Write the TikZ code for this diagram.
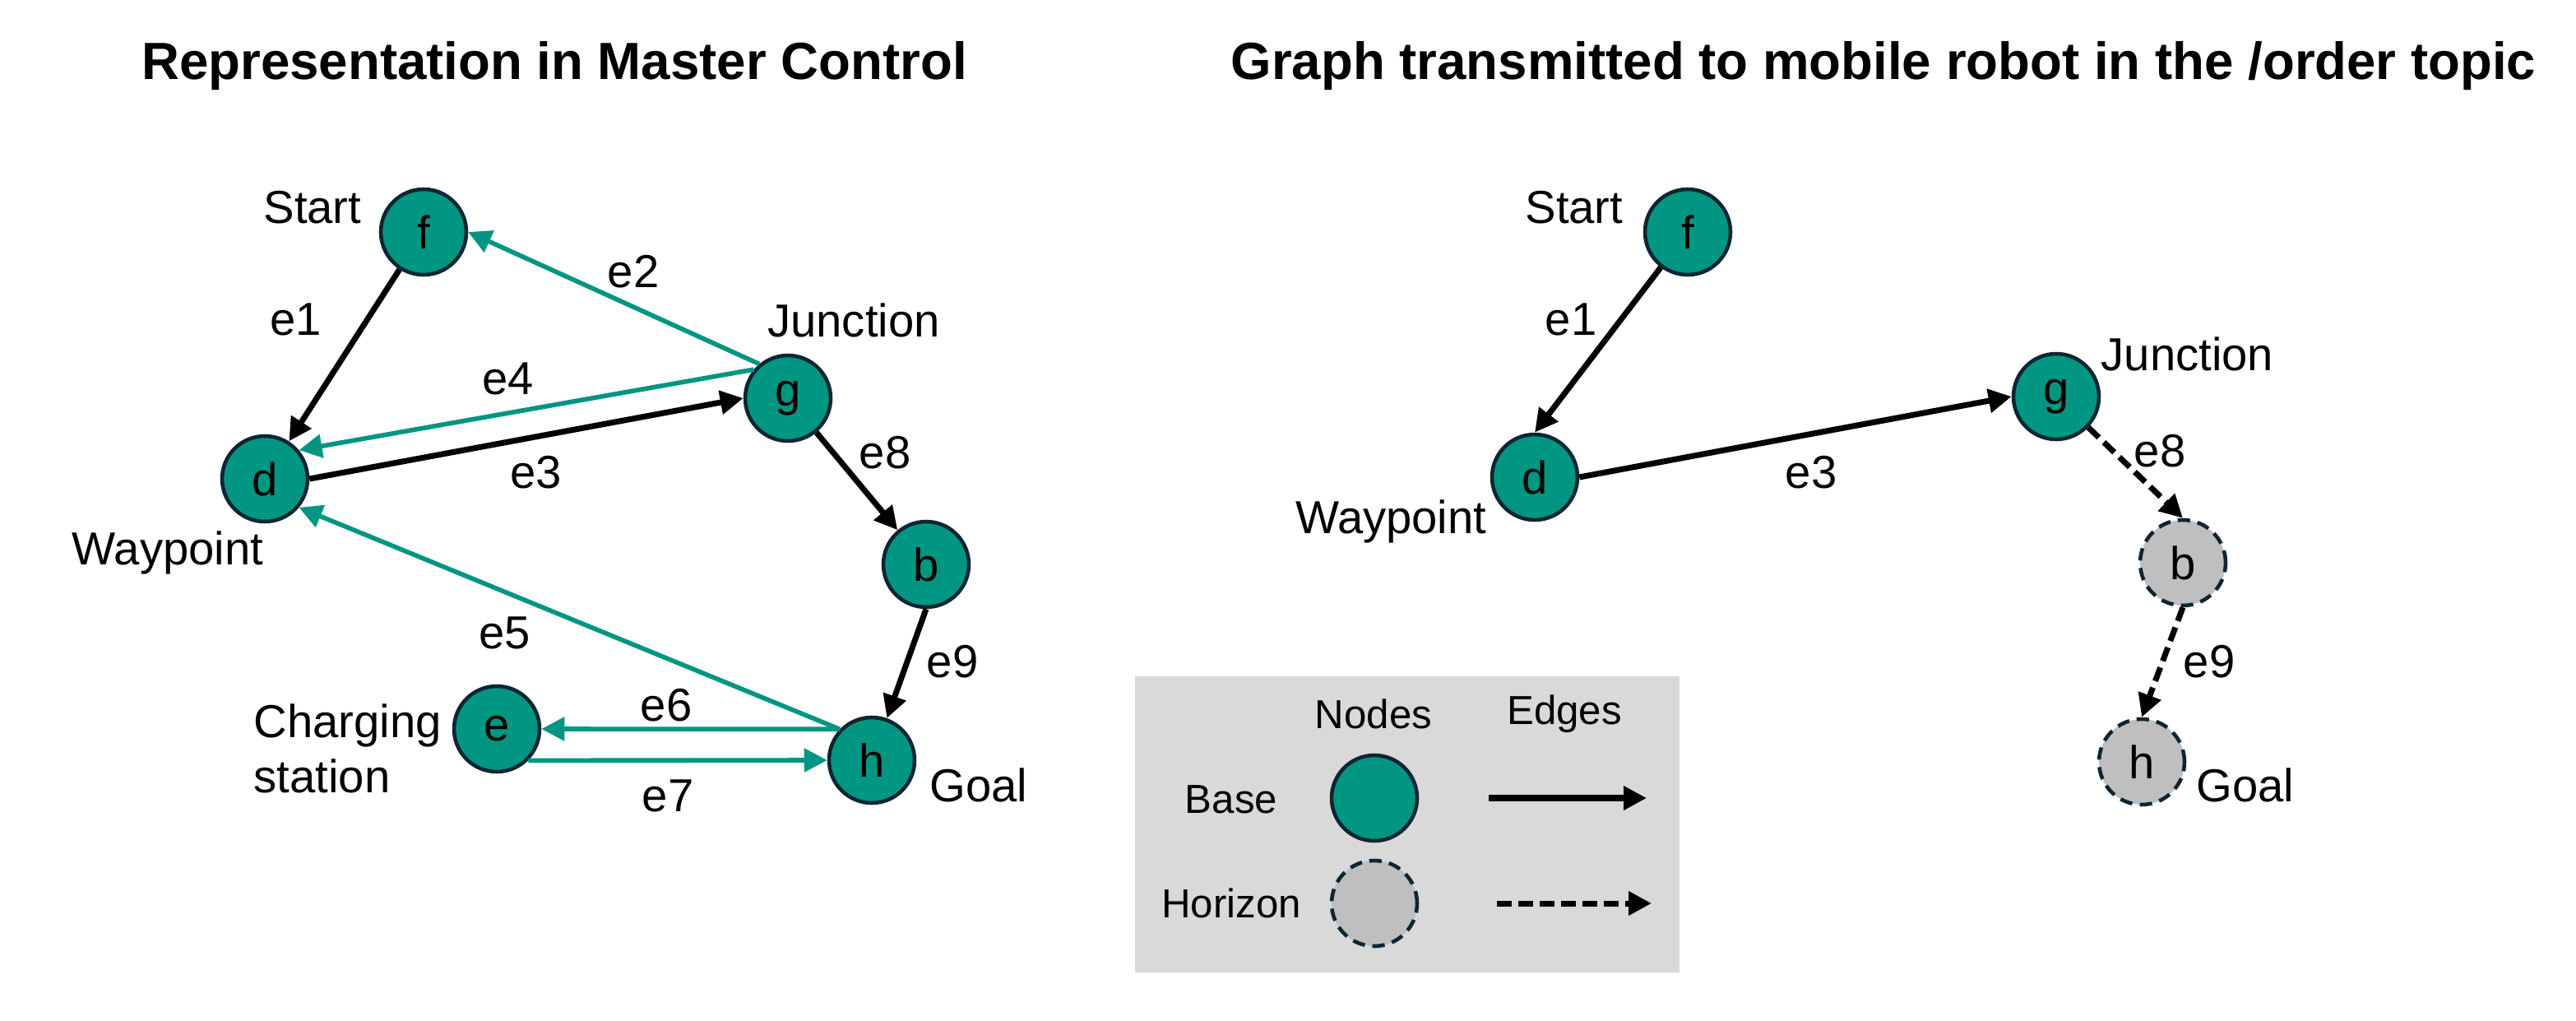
\documentclass[tikz,border=0pt]{standalone}
\usepackage{fontspec}
\setmainfont{Liberation Sans}
\usetikzlibrary{arrows.meta, positioning}

\definecolor{kitgreen}{RGB}{0,150,130}
\definecolor{nodeline}{RGB}{14,37,51}
\definecolor{horizongray}{RGB}{191,191,191}
\definecolor{legendgray}{RGB}{217,217,217}

\begin{document}
\begin{tikzpicture}[
    x=0.02cm, y=-0.02cm,
    basenode/.style={
        circle, draw=nodeline, line width=1.3pt, fill=kitgreen,
        minimum size=1.04cm, inner sep=0pt, font=\fontsize{16}{19}\selectfont
    },
    horizonnode/.style={basenode, fill=horizongray, dash pattern=on 4.3pt off 2.6pt},
    lbl/.style={font=\fontsize{16}{19}\selectfont, inner sep=0pt, align=left},
    heading/.style={font=\fontsize{18.1}{22}\selectfont\bfseries, inner sep=0pt},
    legtext/.style={font=\fontsize{14}{17}\selectfont, inner sep=0pt},
    arrow/.style={-{Triangle[length=2.8mm, width=2.8mm]}, line width=2pt, black},
    greenarrow/.style={arrow, kitgreen, line width=1.6pt},
    horizonarrow/.style={arrow, dash pattern=on 5pt off 2.4pt}
]
\useasboundingbox (0,0) rectangle (1566,620.5);

% Headings
\node[heading] (lefttitle) at (337,40) {Representation in Master Control};
\node[heading] (righttitle) at (1145,40) {Graph transmitted to mobile robot in the /order topic};

% Left graph: representation in master control
\node[basenode] (f) at (257.5,141) {f};
\node[basenode] (d) at (161,291) {d};
\node[basenode] (g) at (479,242) {g};
\node[basenode] (b) at (563,343) {b};
\node[basenode] (h) at (530,462) {h};
\node[basenode] (e) at (302,443) {e};

\node[lbl, anchor=east] (lstart) at (220,126) {Start};
\node[lbl] (ljunction) at (519,194.5) {Junction};
\node[lbl] (lwaypoint) at (102,336) {Waypoint};
\node[lbl, anchor=west] (lcharging) at (154,455) {Charging\\station};
\node[lbl, anchor=west] (lgoal) at (565,477) {Goal};

\draw[arrow] (f) -- (d);
\draw[greenarrow] (g.130) -- (f.east);
\draw[greenarrow] (g.140) -- (d.40);
\draw[arrow] (d.east) -- (g.west);
\draw[arrow] (g) -- (b);
\draw[greenarrow] (h.136) -- (d.-40);
\draw[arrow] (b.south) -- (h);
\draw[greenarrow] (h.136) -- (e.east);
\draw[greenarrow] (e.-45) -- (h.west);

\node[lbl] (le1) at (180,194) {e1};
\node[lbl] (le2) at (385,165) {e2};
\node[lbl] (le4) at (309,230) {e4};
\node[lbl] (le3) at (326,287) {e3};
\node[lbl] (le8) at (538,275) {e8};
\node[lbl] (le5) at (307,384.5) {e5};
\node[lbl] (le9) at (579,402) {e9};
\node[lbl] (le6) at (405,428.5) {e6};
\node[lbl] (le7) at (406,483.5) {e7};

% Right graph: transmitted in the /order topic
\node[basenode] (rf) at (1026,141) {f};
\node[basenode] (rd) at (933,290) {d};
\node[basenode] (rg) at (1250,241) {g};
\node[horizonnode] (rb) at (1327,342) {b};
\node[horizonnode] (rh) at (1302,463) {h};

\node[lbl, anchor=east] (rstart) at (987,126) {Start};
\node[lbl, anchor=west] (rjunction) at (1277,215) {Junction};
\node[lbl, anchor=east] (rwaypoint) at (904,317) {Waypoint};
\node[lbl, anchor=west] (rgoal) at (1335,477) {Goal};

\draw[arrow] (rf) -- (rd.north);
\draw[arrow] (rd.east) -- (rg.west);
\draw[horizonarrow] (rg) -- (rb.north);
\draw[horizonarrow] (rb.south) -- (rh.north);

\node[lbl] (re1) at (955,194) {e1};
\node[lbl] (re3) at (1101,287) {e3};
\node[lbl] (re8) at (1313,274) {e8};
\node[lbl] (re9) at (1343,402) {e9};

% Legend
\fill[legendgray] (690,411) rectangle (1021,591);
\node[legtext] (lnodes) at (835,434) {Nodes};
\node[legtext] (ledges) at (951,434) {Edges};
\node[legtext] (lbase) at (748.5,486) {Base};
\node[legtext] (lhorizon) at (748.5,549) {Horizon};
\node[basenode] (keybase) at (835.5,485) {};
\node[horizonnode] (keyhorizon) at (835.5,549) {};
\coordinate (solidfrom) at (905,485);
\coordinate (solidto) at (1001,485);
\coordinate (dashfrom) at (910,549);
\coordinate (dashto) at (1004,549);
\draw[arrow] (solidfrom) -- (solidto);
\draw[horizonarrow] (dashfrom) -- (dashto);

\end{tikzpicture}
\end{document}
